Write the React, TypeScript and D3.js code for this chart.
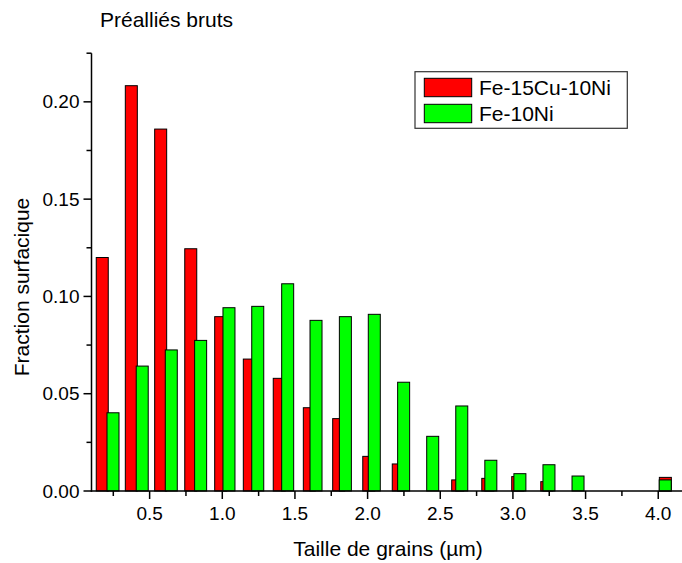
import React from "react";
import * as d3 from "d3";

const redX = [0.174, 0.374, 0.576, 0.783, 0.989, 1.186, 1.392, 1.599, 1.801, 2.008, 2.211, 2.415, 2.62, 2.827, 3.033, 3.233, 3.434, 3.641, 3.84, 4.049];
const redY = [0.12, 0.2083, 0.186, 0.1245, 0.0896, 0.0678, 0.0579, 0.0428, 0.0372, 0.0178, 0.0139, 0, 0.0057, 0.0065, 0.0074, 0.0048, 0, 0, 0, 0.007];
const greenX = [0.248, 0.449, 0.649, 0.851, 1.046, 1.244, 1.45, 1.645, 1.847, 2.046, 2.248, 2.448, 2.648, 2.848, 3.048, 3.248, 3.448, 3.648, 3.848, 4.048];
const greenY = [0.0402, 0.0642, 0.0725, 0.0774, 0.0942, 0.0949, 0.1065, 0.0877, 0.0896, 0.0908, 0.0559, 0.0281, 0.0437, 0.0158, 0.0089, 0.0135, 0.0077, 0, 0, 0.0057];
const xMajor = [0.5, 1.0, 1.5, 2.0, 2.5, 3.0, 3.5, 4.0];
const xMinor = [0.25, 0.75, 1.25, 1.75, 2.25, 2.75, 3.25, 3.75];
const yMajor = [0, 0.05, 0.1, 0.15, 0.2];
const yMinor = [0.025, 0.075, 0.125, 0.175, 0.225];
const seriesNames = ["Fe-15Cu-10Ni", "Fe-10Ni"];
const seriesColors = ["#ff0000", "#00ff00"];

const FONT = "'Liberation Sans', Arial, sans-serif";

export default function App() {
  const W = 682, H = 563;
  const x = d3.scaleLinear().domain([0.1, 4.2]).range([91.5, 687.3]);
  const y = d3.scaleLinear().domain([0, 0.225]).range([491, 53.2]);
  const barW = 0.0826;
  const bars = (xs: number[], ys: number[], color: string, key: string) =>
    xs.map((xv, i) =>
      ys[i] > 0 ? (
        <rect
          key={key + i}
          x={x(xv - barW / 2)}
          y={y(ys[i])}
          width={x(xv + barW / 2) - x(xv - barW / 2)}
          height={y(0) - y(ys[i])}
          fill={color}
          stroke="#000"
          strokeWidth={1}
        />
      ) : null
    );
  const x0 = x.range()[0];
  return (
    <svg width={W} height={H} style={{ position: "absolute", left: 0, top: 0, background: "#fff" }} fontFamily={FONT}>
      <rect x={0} y={0} width={W} height={H} fill="#fff" />
      <text x={100} y={26.5} fontSize={21} fill="#000">Préalliés bruts</text>
      {bars(redX, redY, seriesColors[0], "r")}
      {bars(greenX, greenY, seriesColors[1], "g")}
      {/* axes */}
      <line x1={x0} x2={x0} y1={y(0.225)} y2={y(0) + 0.75} stroke="#000" strokeWidth={1.5} />
      <line x1={x0 - 0.75} x2={W} y1={y(0)} y2={y(0)} stroke="#000" strokeWidth={1.5} />
      {yMajor.map((v) => (
        <g key={"ym" + v}>
          <line x1={x0 - 8} x2={x0} y1={y(v)} y2={y(v)} stroke="#000" strokeWidth={1.5} />
          <text x={x0 - 12} y={y(v)} dy="0.35em" textAnchor="end" fontSize={19}>{d3.format(".2f")(v)}</text>
        </g>
      ))}
      {yMinor.map((v) => (
        <line key={"yn" + v} x1={x0 - 5} x2={x0} y1={y(v)} y2={y(v)} stroke="#000" strokeWidth={1.5} />
      ))}
      {xMajor.map((v) => (
        <g key={"xm" + v}>
          <line x1={x(v)} x2={x(v)} y1={y(0)} y2={y(0) + 8} stroke="#000" strokeWidth={1.5} />
          <text x={x(v)} y={y(0) + 29} textAnchor="middle" fontSize={19}>{d3.format(".1f")(v)}</text>
        </g>
      ))}
      {xMinor.map((v) => (
        <line key={"xn" + v} x1={x(v)} x2={x(v)} y1={y(0)} y2={y(0) + 5} stroke="#000" strokeWidth={1.5} />
      ))}
      <text x={388} y={556} textAnchor="middle" fontSize={21}>Taille de grains (µm)</text>
      <text transform="translate(29,287) rotate(-90)" textAnchor="middle" fontSize={21}>Fraction surfacique</text>
      {/* legend */}
      <rect x={415} y={71.7} width={212.3} height={56.6} fill="#fff" stroke="#333" strokeWidth={1.2} />
      {seriesNames.map((n, i) => (
        <g key={n}>
          <rect x={424.3} y={78.3 + i * 26} width={47.4} height={18.4} fill={seriesColors[i]} stroke="#000" strokeWidth={1} />
          <text x={479} y={94.5 + i * 26} fontSize={21}>{n}</text>
        </g>
      ))}
    </svg>
  );
}
